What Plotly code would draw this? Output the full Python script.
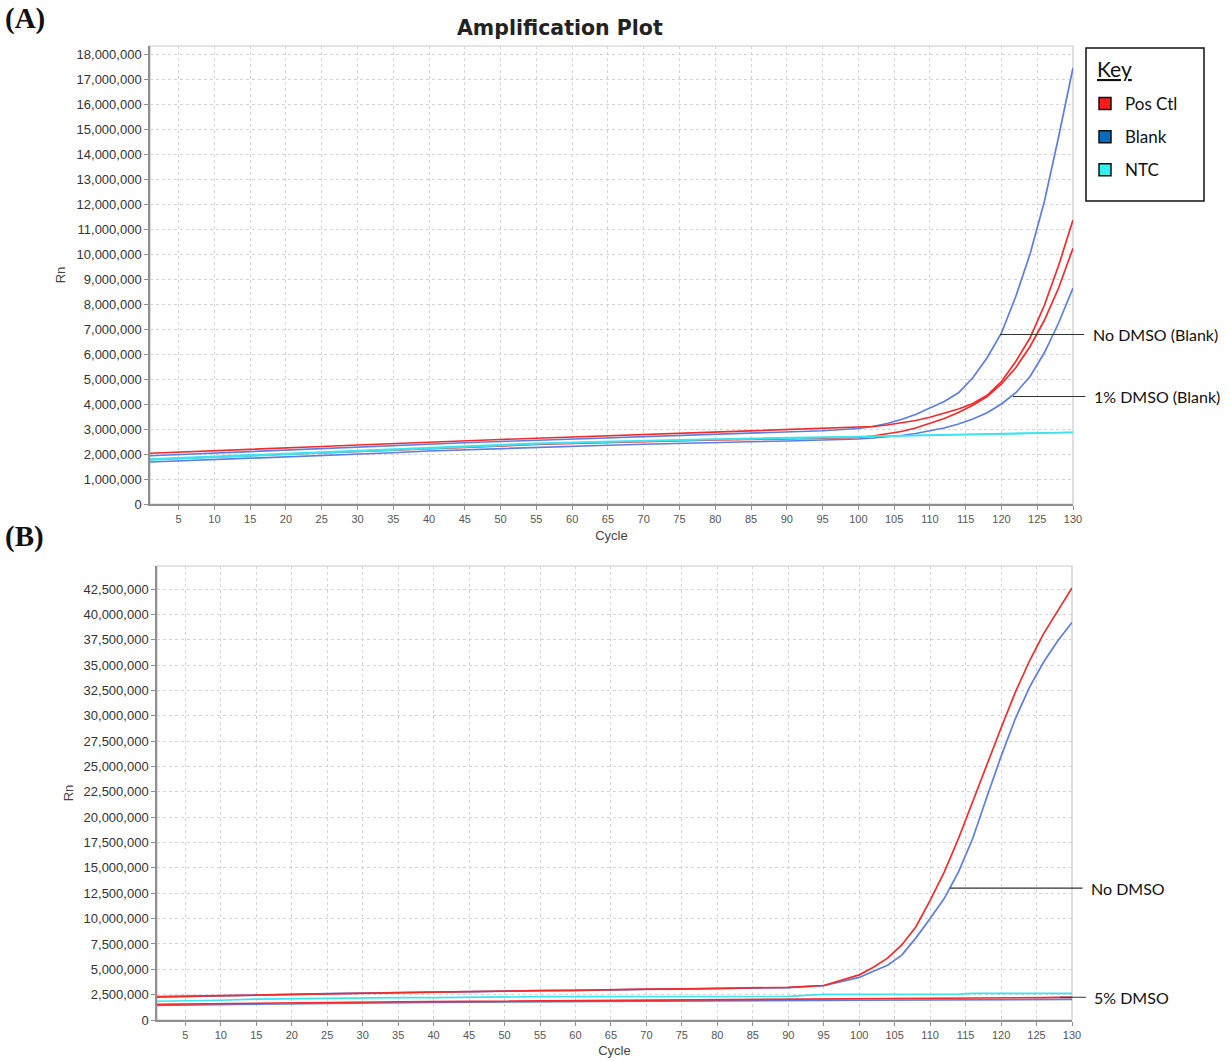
import plotly.graph_objects as go

# ---------------- data (Rn values in millions) ----------------
CYCLES = [1, 5, 10, 15, 20, 25, 30, 35, 40, 45, 50, 55, 60, 65, 70, 75, 80, 85, 90, 95,
          100, 102, 104, 106, 108, 110, 112, 114, 116, 118, 120, 122, 124, 126, 128, 130]
X_TICKS = list(range(5, 131, 5))

# Panel A (No DMSO vs 1% DMSO)
A_POS_NODMSO = [2.03, 2.08, 2.13, 2.19, 2.25, 2.30, 2.36, 2.42, 2.48, 2.53, 2.58, 2.63, 2.68, 2.73, 2.78, 2.83, 2.87, 2.91, 2.95, 3.00,
                3.05, 3.10, 3.16, 3.24, 3.34, 3.47, 3.62, 3.80, 4.02, 4.35, 4.90, 5.70, 6.65, 7.95, 9.55, 11.36]
A_BLANK_NODMSO = [1.93, 1.98, 2.04, 2.10, 2.16, 2.22, 2.28, 2.34, 2.40, 2.45, 2.50, 2.55, 2.60, 2.65, 2.70, 2.75, 2.79, 2.84, 2.88, 2.93,
                  3.02, 3.10, 3.22, 3.38, 3.58, 3.84, 4.10, 4.45, 5.05, 5.85, 6.84, 8.30, 10.00, 12.10, 14.70, 17.45]
A_POS_1DMSO = [1.78, 1.83, 1.88, 1.93, 1.99, 2.04, 2.10, 2.16, 2.23, 2.28, 2.33, 2.38, 2.42, 2.46, 2.50, 2.53, 2.56, 2.58, 2.60, 2.62,
               2.66, 2.72, 2.80, 2.90, 3.04, 3.22, 3.42, 3.66, 3.95, 4.30, 4.80, 5.45, 6.30, 7.35, 8.65, 10.23]
A_BLANK_1DMSO = [1.68, 1.72, 1.78, 1.83, 1.88, 1.93, 1.99, 2.05, 2.12, 2.17, 2.22, 2.27, 2.31, 2.35, 2.39, 2.43, 2.46, 2.49, 2.52, 2.55,
                 2.60, 2.64, 2.68, 2.74, 2.82, 2.92, 3.04, 3.20, 3.40, 3.65, 4.00, 4.45, 5.10, 6.05, 7.25, 8.64]
A_NTC_NODMSO = [1.80, 1.84, 1.90, 1.96, 2.02, 2.08, 2.14, 2.20, 2.28, 2.33, 2.38, 2.43, 2.47, 2.51, 2.54, 2.57, 2.60, 2.62, 2.64, 2.66,
                2.70, 2.71, 2.72, 2.73, 2.75, 2.76, 2.77, 2.78, 2.79, 2.80, 2.81, 2.82, 2.83, 2.84, 2.86, 2.87]
A_NTC_1DMSO = [1.76, 1.80, 1.86, 1.92, 1.98, 2.04, 2.10, 2.17, 2.25, 2.30, 2.35, 2.40, 2.44, 2.48, 2.51, 2.55, 2.58, 2.60, 2.62, 2.65,
               2.68, 2.70, 2.71, 2.72, 2.73, 2.75, 2.76, 2.77, 2.78, 2.79, 2.80, 2.81, 2.82, 2.83, 2.85, 2.86]

# Panel B (No DMSO vs 5% DMSO)
B_POS_NODMSO = [2.30, 2.35, 2.40, 2.50, 2.55, 2.62, 2.67, 2.72, 2.75, 2.80, 2.88, 2.90, 2.93, 3.02, 3.04, 3.06, 3.10, 3.15, 3.22, 3.40,
                4.45, 5.20, 6.10, 7.40, 9.20, 11.80, 14.60, 17.90, 21.60, 25.20, 28.80, 32.30, 35.40, 38.10, 40.40, 42.60]
B_BLANK_NODMSO = [2.25, 2.32, 2.38, 2.48, 2.53, 2.60, 2.66, 2.72, 2.74, 2.79, 2.86, 2.89, 2.92, 3.00, 3.02, 3.05, 3.08, 3.13, 3.20, 3.38,
                  4.20, 4.80, 5.40, 6.40, 8.10, 10.00, 12.00, 14.60, 17.90, 22.00, 26.00, 29.70, 32.80, 35.30, 37.40, 39.20]
B_POS_5DMSO = [1.55, 1.58, 1.68, 1.72, 1.74, 1.77, 1.79, 1.80, 1.82, 1.84, 1.86, 1.88, 1.89, 1.91, 1.93, 1.95, 1.97, 1.98, 2.00, 2.03,
               2.05, 2.06, 2.07, 2.08, 2.09, 2.10, 2.10, 2.11, 2.12, 2.13, 2.14, 2.16, 2.19, 2.21, 2.23, 2.24]
B_BLANK_5DMSO = [1.45, 1.48, 1.55, 1.62, 1.65, 1.67, 1.70, 1.72, 1.74, 1.76, 1.77, 1.78, 1.79, 1.80, 1.82, 1.83, 1.85, 1.87, 1.90, 1.93,
                 1.95, 1.96, 1.96, 1.97, 1.97, 1.98, 1.98, 1.98, 1.99, 1.99, 2.00, 2.00, 2.01, 2.02, 2.03, 2.04]
B_NTC = [1.85, 1.88, 1.95, 2.05, 2.10, 2.15, 2.18, 2.20, 2.20, 2.25, 2.30, 2.30, 2.30, 2.30, 2.30, 2.30, 2.30, 2.31, 2.32, 2.53,
         2.53, 2.53, 2.53, 2.54, 2.54, 2.54, 2.55, 2.55, 2.62, 2.63, 2.63, 2.63, 2.63, 2.63, 2.63, 2.63]

LEGEND_NAMES = ["Pos Ctl", "Blank", "NTC"]

# ---------------- style ----------------
RED = "#f42a2a"
BLUE = "#5c7de6"
CYAN = "#3de4f0"
LEG_COLORS = ["#ff1a1a", "#0a6cb8", "#33f0f0"]
W, H = 1231, 1061
M = 1e6


def px_x(p):
    return p / W


def px_y(p):
    return 1 - p / H


fig = go.Figure()


def add_line(x, y, color, xa, ya):
    fig.add_trace(go.Scatter(x=x, y=[v * M for v in y], mode="lines",
                             line=dict(color=color, width=1.7),
                             xaxis=xa, yaxis=ya, showlegend=False, hoverinfo="skip"))


# Panel A
for s, c in [(A_BLANK_1DMSO, BLUE), (A_BLANK_NODMSO, BLUE),
             (A_POS_1DMSO, RED), (A_POS_NODMSO, RED),
             (A_NTC_1DMSO, CYAN), (A_NTC_NODMSO, CYAN)]:
    add_line(CYCLES, s, c, "x", "y")

# Panel B
for s, c in [(B_BLANK_5DMSO, BLUE), (B_POS_5DMSO, RED), (B_NTC, CYAN),
             (B_BLANK_NODMSO, BLUE), (B_POS_NODMSO, RED)]:
    add_line(CYCLES, s, c, "x2", "y2")

# legend entries
for name, col in zip(LEGEND_NAMES, LEG_COLORS):
    fig.add_trace(go.Scatter(x=[None], y=[None], mode="markers", name=name, legendgroup=name,
                             marker=dict(symbol="square", size=12, color=col,
                                         line=dict(color="#111", width=1.5)),
                             xaxis="x", yaxis="y"))

axis_common = dict(
    showgrid=True, gridcolor="#d4d4d4", griddash="dot", gridwidth=1,
    showline=True, linecolor="#8f8f8f", linewidth=1.5,
    ticks="outside", ticklen=4, tickcolor="#8f8f8f",
    zeroline=False,
)
xfont = dict(family="Liberation Sans, Arial", size=11, color="#555")
yfont = dict(family="Liberation Sans, Arial", size=13, color="#333")
tfont = dict(family="Liberation Sans, Arial", size=13, color="#444")

fig.update_layout(
    width=W, height=H, margin=dict(l=0, r=0, t=0, b=0, autoexpand=False),
    paper_bgcolor="white", plot_bgcolor="white",
    xaxis=dict(domain=[px_x(150), px_x(1073)], anchor="y", range=[1, 130],
               tickmode="array", tickvals=X_TICKS, tickfont=xfont,
               title=dict(text="Cycle", font=tfont, standoff=7), **axis_common),
    yaxis=dict(domain=[px_y(504), px_y(46)], anchor="x", range=[0, 18.32 * M],
               dtick=1 * M, tick0=0, tickformat=",d", tickfont=yfont,
               title=dict(text="Rn", font=tfont, standoff=8), **axis_common),
    xaxis2=dict(domain=[px_x(157), px_x(1072)], anchor="y2", range=[1, 130],
                tickmode="array", tickvals=X_TICKS, tickfont=xfont,
                title=dict(text="Cycle", font=tfont, standoff=6), **axis_common),
    yaxis2=dict(domain=[px_y(1020), px_y(566)], anchor="x2", range=[0, 44.77 * M],
                dtick=2.5 * M, tick0=0, tickformat=",d", tickfont=yfont,
                title=dict(text="Rn", font=tfont, standoff=7), **axis_common),
    legend=dict(x=px_x(1085), y=px_y(86), xanchor="left", yanchor="top",
                bgcolor="rgba(0,0,0,0)", borderwidth=0,
                font=dict(family="Lato, Open Sans", size=17, color="#111"),
                traceorder="grouped", tracegroupgap=8, itemclick=False),
    showlegend=True,
)

# legend box and heading
fig.add_shape(type="rect", xref="paper", yref="paper",
              x0=px_x(1086), x1=px_x(1204), y0=px_y(201), y1=px_y(48),
              line=dict(color="#111", width=1.5), fillcolor="white", layer="below")
fig.add_annotation(text="<span style='text-decoration:underline'>Key</span>", xref="paper", yref="paper",
                   x=px_x(1095), y=px_y(69), xanchor="left", yanchor="middle", showarrow=False,
                   font=dict(family="Lato, Open Sans", size=21, color="#111"))

# plot-area borders (top / right lighter)
for xr, yr in [("x domain", "y domain"), ("x2 domain", "y2 domain")]:
    fig.add_shape(type="rect", xref=xr, yref=yr, x0=0, x1=1, y0=0, y1=1,
                  line=dict(color="#c9c9c9", width=1.2), layer="below")

# title and panel labels
fig.add_annotation(text="<b>Amplification Plot</b>", xref="paper", yref="paper",
                   x=px_x(560), y=px_y(28), xanchor="center", yanchor="middle", showarrow=False,
                   font=dict(family="DejaVu Sans, Verdana", size=20.5, color="#222"))
fig.add_annotation(text="<b>(A)</b>", xref="paper", yref="paper", x=px_x(3), y=px_y(19),
                   xanchor="left", yanchor="middle", showarrow=False,
                   font=dict(family="Liberation Serif, Times New Roman", size=29, color="#111"))
fig.add_annotation(text="<b>(B)</b>", xref="paper", yref="paper", x=px_x(3), y=px_y(536),
                   xanchor="left", yanchor="middle", showarrow=False,
                   font=dict(family="Liberation Serif, Times New Roman", size=29, color="#111"))

# callout labels
lab_font = dict(family="Lato, Open Sans", size=16, color="#111")
callouts = [
    ("No DMSO (Blank)", "x", "y", 119.8, 6.78 * M, 155),
    ("1% DMSO (Blank)", "x", "y", 121.6, 4.30 * M, 144),
    ("No DMSO", "x2", "y2", 112.8, 13.0 * M, 178),
    ("5% DMSO", "x2", "y2", 128.3, 2.25 * M, 72),
]
for text, xa, ya, xv, yv, ax in callouts:
    fig.add_annotation(text=text, xref=xa, yref=ya, x=xv, y=yv, ax=ax, ay=0,
                       showarrow=True, arrowhead=0, arrowwidth=1.1, arrowcolor="#333",
                       standoff=0, borderpad=8, font=lab_font)

fig.write_html("out.html")
